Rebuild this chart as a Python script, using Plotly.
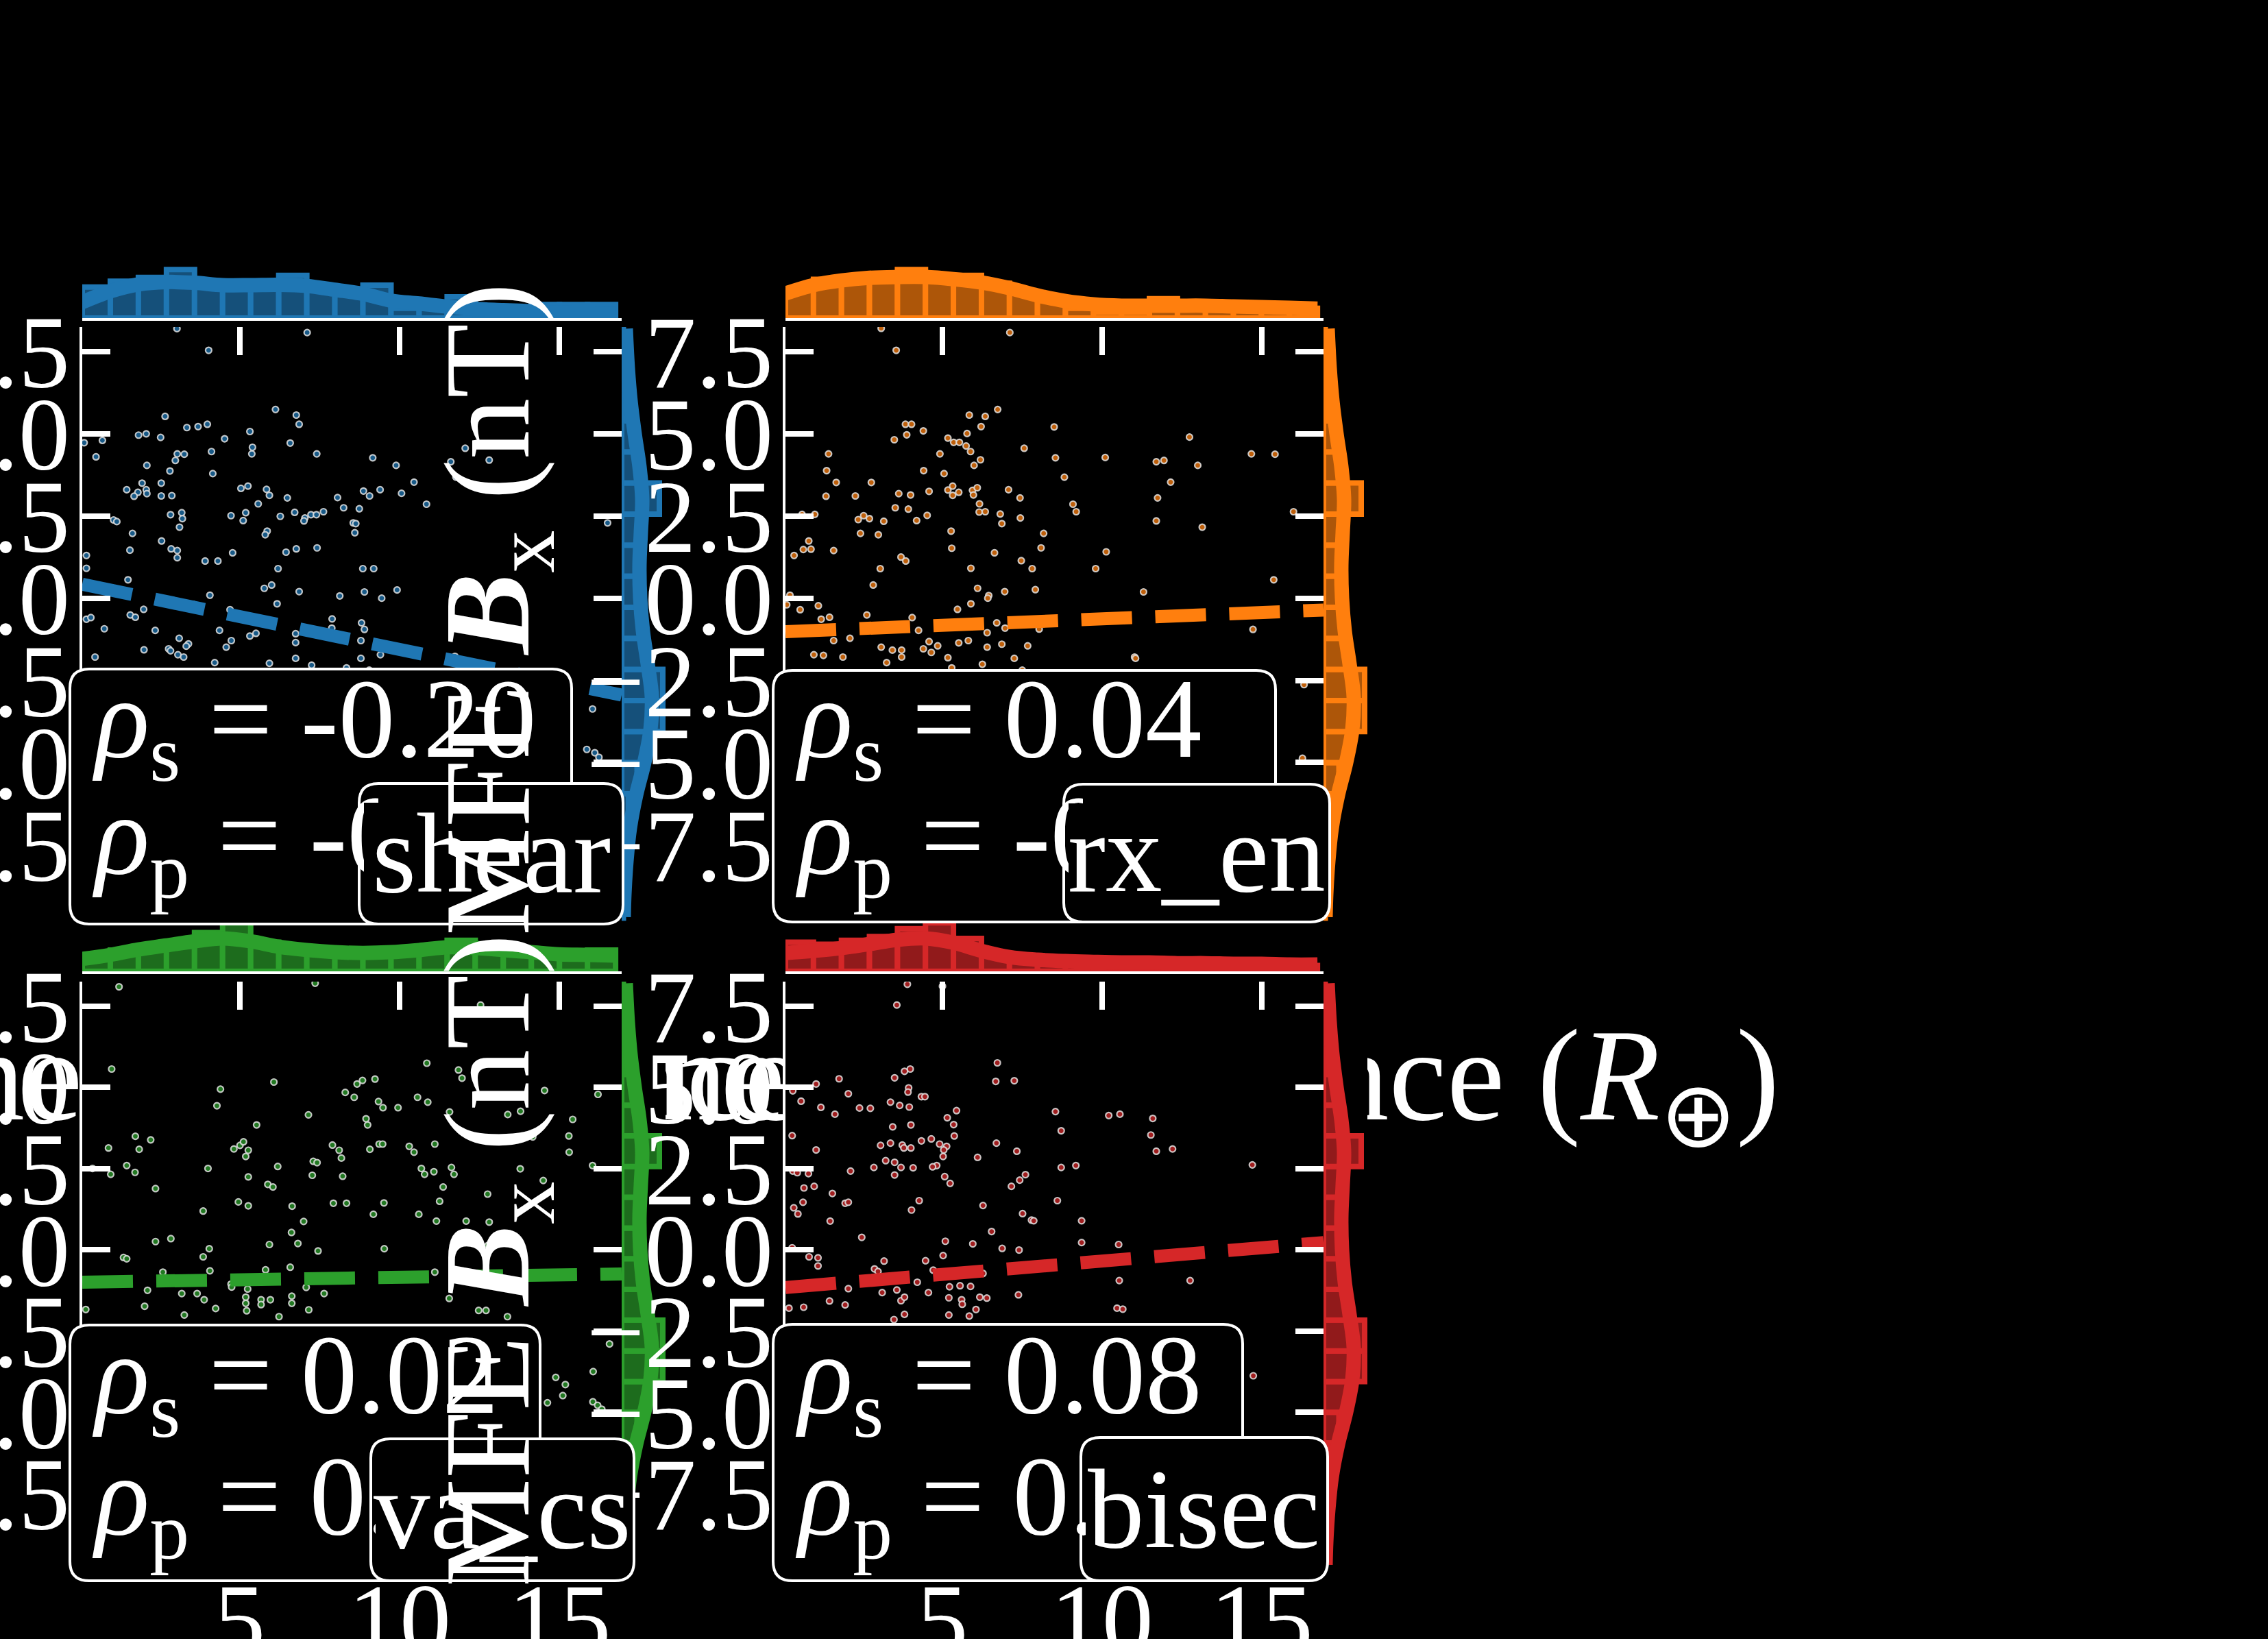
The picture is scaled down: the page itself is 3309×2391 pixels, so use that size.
import plotly.graph_objects as go

FIG_W, FIG_H = 3309, 2391
SERIF = "Liberation Serif"

PANELS = ["shear", "rx_en", "va_cs", "bisec"]
COLORS = ["#1f77b4", "#ff7f0e", "#2ca02c", "#d62728"]

# reconnection distance (R_E) vs MFE B_x (nT), one pair of lists per method
SHEAR_X = [3.04, 7.11, 4.03, 6.12, 6.77, 6.86, 2.67, 3.99, 3.70, 3.35,
           1.84, 2.08, 0.14, 0.71, 2.53, 5.32, 4.53, 6.58, 5.40, 5.38,
           4.12, 3.27, 3.05, 2.99, 7.41, 0.51, 2.10, 2.82, 4.16, 9.16,
           9.89, 12.05, 11.60, 11.76, 12.80, 10.45, 10.84, 10.06, 9.39, 9.06,
           8.87, 8.06, 8.25, 8.74, 1.95, 2.08, 1.82, 1.47, 1.70, 2.10,
           2.55, 2.55, 2.88, 5.04, 5.26, 5.84, 5.93, 6.49, 5.58, 5.19,
           4.73, 5.11, 6.27, 6.72, 7.04, 7.23, 7.62, 7.40, 7.01, 5.86,
           5.80, 8.55, 8.63, 8.60, 16.50, 1.06, 1.16, 2.84, 3.19, 3.21,
           3.12, 1.65, 1.57, 2.56, 2.86, 3.05, 3.05, 3.92, 4.32, 4.78,
           6.45, 6.77, 7.42, 0.21, 0.21, 6.20, 8.85, 9.19, 1.51, 5.77,
           6.00, 6.86, 9.92, 8.90, 9.44, 8.13, 4.07, 6.17, 3.56, 0.21,
           0.35, 1.58, 1.74, 2.00, 4.70, 7.89, 7.88, 8.81, 8.90, 0.77,
           2.36, 4.37, 5.32, 5.51, 3.11, 3.40, 3.33, 2.78, 2.84, 3.07,
           3.25, 2.01, 4.74, 4.58, 0.48, 6.75, 6.75, 8.79, 9.31, 9.40,
           8.79, 6.75, 4.22, 5.93, 7.25, 8.34, 9.05, 11.73, 16.03, 15.85,
           16.10, 16.23]
SHEAR_Y = [8.20, 8.08, 7.54, 5.74, 5.57, 5.29, 5.53, 5.29, 5.22, 5.19,
           4.96, 5.00, 4.73, 4.80, 4.89, 5.07, 4.85, 4.72, 4.59, 4.39,
           4.46, 4.38, 4.39, 4.19, 4.39, 4.30, 4.04, 3.87, 3.79, 4.27,
           4.04, 4.56, 4.15, 3.68, 4.20, 3.53, 2.86, 3.19, 3.30, 3.11,
           3.26, 3.06, 2.75, 2.72, 3.50, 3.30, 3.22, 3.30, 3.10, 3.18,
           3.50, 3.11, 3.12, 3.34, 3.41, 3.31, 3.13, 3.05, 2.87, 2.60,
           2.51, 2.36, 2.49, 2.61, 2.44, 2.54, 2.63, 2.54, 2.35, 2.04,
           1.93, 2.29, 2.27, 1.99, 2.29, 2.38, 2.33, 2.54, 2.60, 2.42,
           2.16, 1.97, 1.46, 1.74, 1.50, 1.45, 1.23, 1.13, 1.13, 1.38,
           1.40, 1.50, 1.53, 1.30, 0.91, 0.90, 0.90, 0.90, 0.56, 0.30,
           0.40, 0.20, 0.25, 0.19, 0.00, 0.07, 0.09, -0.17, -0.19, -0.64,
           -0.59, -0.51, -0.58, -0.34, -0.35, -0.63, -0.91, -0.75, -0.95, -0.93,
           -0.98, -0.98, -1.15, -1.07, -1.22, -1.39, -1.46, -1.54, -1.60, -1.72,
           -1.79, -1.57, -1.29, -1.49, -1.79, -1.08, -1.35, -1.29, -1.41, -1.72,
           -1.83, -1.83, -1.96, -1.98, -2.04, -2.12, -2.19, -1.77, -3.37, -4.60,
           -4.70, -4.84]

RX_EN_X = [3.08, 7.11, 3.55, 6.73, 5.84, 6.34, 3.84, 4.03, 6.21, 8.50,
           4.40, 3.88, 3.49, 5.17, 5.77, 5.35, 5.53, 5.74, 5.88, 7.56,
           12.74, 14.68, 15.42, 1.43, 4.92, 6.19, 5.99, 8.54, 10.10, 11.70,
           11.94, 13.00, 1.37, 4.41, 5.05, 1.67, 2.77, 8.82, 12.15, 1.35,
           2.27, 3.63, 4.00, 4.58, 5.17, 5.32, 5.32, 5.51, 5.94, 6.09,
           5.97, 7.07, 7.43, 6.16, 11.74, 9.09, 9.19, 3.52, 3.93, 6.15,
           6.34, 6.81, 4.52, 4.19, 6.86, 7.44, 11.70, 13.14, 16.00, 0.60,
           1.00, 2.36, 2.53, 2.71, 3.16, 2.43, 2.99, 5.27, 8.17, 0.81,
           0.35, 0.64, 0.88, 1.59, 5.29, 6.63, 8.09, 10.13, 3.70, 3.85,
           5.89, 7.47, 7.81, 9.80, 3.05, 2.83, 6.10, 6.45, 6.42, 6.95,
           7.91, 11.30, 15.38, 0.22, 0.12, 0.54, 1.11, 1.20, 1.46, 2.63,
           4.05, 5.47, 5.89, 6.70, 6.96, 6.40, 8.03, 4.25, 14.73, 1.59,
           2.10, 0.97, 1.27, 1.88, 3.08, 3.43, 3.72, 3.72, 3.25, 4.40,
           4.58, 4.65, 4.85, 5.17, 5.51, 5.81, 6.40, 6.86, 7.25, 7.67,
           6.25, 5.29, 7.50, 11.02, 11.05, 16.33, 16.28]
RX_EN_Y = [8.21, 8.08, 7.54, 5.74, 5.57, 5.53, 5.29, 5.29, 5.22, 5.21,
           5.09, 4.97, 4.82, 4.87, 5.01, 4.74, 4.74, 4.63, 4.46, 4.56,
           4.90, 4.39, 4.38, 4.39, 4.39, 4.21, 4.04, 4.27, 4.28, 4.15,
           4.19, 4.04, 3.88, 3.88, 3.79, 3.52, 3.52, 3.68, 3.53, 3.10,
           3.11, 3.18, 3.14, 3.25, 3.29, 3.41, 3.13, 3.22, 3.28, 3.36,
           3.14, 3.30, 3.05, 2.87, 3.05, 2.86, 2.63, 2.75, 2.71, 2.62,
           2.63, 2.56, 2.52, 2.36, 2.27, 2.44, 2.35, 2.16, 2.63, 2.55,
           2.55, 2.39, 2.51, 2.42, 2.34, 1.97, 1.93, 2.04, 1.97, 1.74,
           1.30, 1.48, 1.49, 1.45, 1.52, 1.38, 1.53, 1.41, 1.25, 1.13,
           0.91, 1.14, 0.90, 0.90, 0.90, 0.40, 0.30, 0.08, 0.00, 0.20,
           0.26, 0.19, 0.56, 0.09, -0.20, -0.35, -0.23, -0.64, -0.58, -0.51,
           -0.59, -0.34, -0.17, -0.75, -0.91, -1.05, -0.94, -0.98, -0.95, -1.29,
           -1.22, -1.72, -1.74, -1.79, -1.49, -1.58, -1.58, -1.79, -1.96, -1.54,
           -1.32, -1.65, -1.45, -1.81, -1.36, -1.29, -1.49, -1.40, -1.83, -1.45,
           -2.01, -2.12, -2.19, -1.79, -1.83, -2.63, -4.87]

VA_CS_X = [1.23, 7.36, 1.00, 6.07, 4.40, 4.29, 5.53, 7.15, 8.30, 8.58,
           8.67, 8.84, 9.23, 9.34, 9.48, 9.95, 8.95, 9.00, 10.56, 10.88,
           10.85, 11.84, 11.95, 12.53, 11.56, 11.93, 13.38, 13.78, 14.53, 16.20,
           15.41, 15.29, 15.30, 14.16, 0.90, 1.74, 1.86, 2.22, 1.47, 1.73,
           0.97, 0.40, 2.37, 4.01, 3.86, 4.82, 5.01, 5.12, 5.27, 5.19,
           5.27, 6.19, 5.88, 6.04, 4.96, 5.27, 6.64, 7.00, 7.30, 7.42,
           7.27, 7.90, 8.11, 8.18, 8.22, 7.93, 8.34, 9.07, 9.36, 9.47,
           10.30, 10.45, 10.68, 10.78, 11.07, 11.10, 11.62, 11.70, 11.36, 11.25,
           11.15, 10.60, 9.18, 9.51, 12.08, 12.75, 12.80, 12.76, 13.77, 14.49,
           16.03, 6.62, 6.82, 7.45, 5.93, 3.86, 4.05, 2.37, 2.85, 1.37,
           1.47, 9.52, 11.10, 11.55, 12.47, 12.70, 13.37, 2.60, 2.12, 2.03,
           3.19, 3.67, 3.89, 4.25, 3.27, 4.07, 4.73, 4.75, 5.25, 5.19,
           5.19, 5.22, 5.67, 5.67, 5.96, 5.81, 6.58, 6.63, 6.63, 7.08,
           7.16, 7.64, 6.23, 0.19, 14.62, 14.88, 15.18, 15.10, 16.05, 16.04,
           16.19, 16.32, 16.56]
VA_CS_Y = [8.09, 8.20, 5.56, 5.16, 4.94, 4.43, 3.84, 4.15, 4.84, 4.69,
           5.10, 5.21, 5.25, 4.56, 4.37, 4.37, 4.03, 3.84, 4.69, 4.54,
           5.74, 5.53, 5.28, 7.53, 4.24, 3.65, 4.16, 4.26, 4.90, 4.78,
           4.01, 3.50, 3.00, 3.47, 3.13, 3.49, 3.09, 3.38, 2.59, 2.38,
           2.32, 2.50, 1.88, 2.50, 1.19, 3.10, 3.21, 3.32, 3.06, 2.87,
           2.24, 2.56, 2.01, 1.93, 1.47, 1.35, 1.34, 0.87, 2.72, 2.68,
           2.29, 3.22, 3.06, 2.82, 2.26, 1.43, 1.43, 3.09, 3.25, 3.25,
           3.18, 3.00, 2.50, 2.32, 2.40, 3.25, 2.53, 2.32, 1.93, 1.49,
           0.88, 1.09, 1.09, 1.44, 0.88, 1.71, 0.85, 0.13, 2.49, 2.13,
           2.59, 0.53, 0.19, -0.04, 0.16, -0.22, 0.03, 0.25, 0.34, -0.24,
           -0.28, 0.03, -0.69, -1.50, -1.87, -1.87, -2.06, -0.69, -1.25, -1.74,
           -1.35, -1.35, -1.54, -1.81, -2.01, -0.65, -1.06, -1.15, -1.21, -1.46,
           -1.65, -1.88, -1.54, -1.69, -1.54, -0.62, -0.54, -1.43, -1.65, -1.16,
           -1.85, -1.35, -2.06, -1.84, -4.71, -3.93, -4.15, -4.49, -3.75, -4.68,
           -4.79, -4.91, -2.90]

BISEC_X = [3.90, 3.57, 5.00, 6.72, 6.67, 7.25, 3.99, 3.81, 3.50, 1.76,
           1.04, 0.31, 2.05, 0.57, 1.19, 1.63, 2.40, 2.74, 3.37, 3.66,
           3.94, 3.92, 4.34, 4.45, 3.96, 4.01, 3.44, 5.15, 5.44, 5.35,
           5.37, 5.13, 5.02, 4.82, 4.69, 4.34, 4.65, 4.91, 5.04, 3.74,
           4.01, 3.06, 3.37, 3.79, 0.29, 1.04, 2.12, 2.85, 3.22, 3.50,
           3.70, 3.50, 4.08, 5.07, 5.24, 6.10, 6.69, 7.33, 7.60, 7.42,
           7.16, 8.54, 8.72, 8.72, 9.18, 8.60, 10.21, 10.56, 11.59, 11.53,
           11.70, 12.21, 14.71, 0.31, 0.45, 0.80, 0.66, 0.98, 1.55, 1.95,
           2.05, 0.34, 0.47, 0.63, 1.48, 4.27, 4.03, 6.27, 7.51, 7.79,
           7.86, 6.54, 9.36, 2.47, 5.09, 5.95, 6.87, 7.40, 9.36, 10.52,
           0.29, 0.82, 1.10, 1.10, 3.17, 2.87, 2.98, 4.47, 5.02, 4.71,
           6.27, 5.73, 10.54, 12.76, 2.05, 3.11, 3.57, 4.21, 4.56, 5.22,
           5.55, 5.88, 6.17, 6.39, 7.38, 1.46, 1.95, 0.19, 0.65, 3.70,
           3.81, 5.20, 5.60, 5.62, 6.05, 5.84, 3.81, 5.20, 3.48, 10.47,
           10.65, 14.74]
BISEC_Y = [8.17, 7.53, 8.11, 5.75, 5.18, 5.20, 5.56, 5.49, 5.29, 5.26,
           5.10, 4.89, 4.80, 4.57, 4.38, 4.17, 4.36, 4.35, 4.54, 4.44,
           4.98, 4.85, 4.71, 4.71, 4.39, 3.84, 3.78, 4.06, 4.28, 3.85,
           3.50, 3.18, 2.87, 2.59, 2.55, 3.35, 3.41, 3.25, 3.07, 3.22,
           3.13, 3.21, 3.28, 3.13, 3.51, 3.07, 2.42, 2.53, 2.74, 2.69,
           2.53, 2.30, 2.52, 2.25, 2.04, 2.84, 3.28, 3.03, 2.31, 2.14,
           1.95, 4.25, 3.66, 2.53, 2.59, 1.51, 4.13, 4.17, 4.04, 3.53,
           3.03, 3.10, 2.61, 2.42, 2.37, 2.34, 1.90, 1.95, 1.73, 1.43,
           1.46, 1.29, 1.10, 1.46, 0.88, 1.51, 1.22, 1.36, 1.11, 0.91,
           0.89, 0.56, 0.89, 0.38, 0.26, 0.18, 0.04, -0.01, 0.22, 0.16,
           0.06, -0.22, -0.25, -0.50, -0.35, -0.59, -0.67, -0.34, -0.18, -0.63,
           -0.73, -0.70, -0.95, -0.95, -1.20, -1.32, -1.24, -1.00, -1.32, -1.14,
           -1.11, -1.13, -1.46, -1.49, -1.39, -1.58, -1.70, -1.80, -1.77, -1.57,
           -1.46, -1.48, -1.54, -1.68, -1.84, -2.04, -1.99, -2.01, -2.15, -1.80,
           -1.83, -3.88]

# correlation coefficients and linear fit (intercept, slope) per method
RHO_S = [-0.20, 0.04, 0.02, 0.08]
RHO_P = [-0.19, -0.03, 0.03, 0.09]
FIT_INTERCEPT = [0.44, -1.02, -1.00, -1.17]
FIT_SLOPE = [-0.200, 0.039, 0.015, 0.082]

# top marginals: 19-bin histograms of distance + kde read at the bin edges
X_BIN_LO, X_BIN_HI, N_BINS = 0.08, 16.75, 19
SHEAR_TOP_HIST = [16, 19, 21, 25, 17, 17, 17, 22, 15, 13, 17, 5, 5, 11, 4, 4, 7, 7, 7]
RX_EN_TOP_HIST = [15, 20, 21, 21, 25, 22, 22, 18, 13, 9, 5, 3, 3, 10, 5, 5, 5, 5, 5]
VA_CS_TOP_HIST = [7, 11, 13, 15, 20, 25, 15, 11, 10, 9, 9, 10, 11, 16, 12, 11, 8, 8, 11]
BISEC_TOP_HIST = [15, 14, 16, 18, 22, 25, 17, 9, 6, 5, 4, 4, 4, 4, 3, 3, 3, 3, 3]
SHEAR_TOP_KDE = [8.2, 13.8, 17.4, 18.6, 18.2, 17.0, 17.0, 17.2, 16.6, 14.6,
                 12.5, 9.0, 7.5, 5.9, 4.7, 4.1, 3.5, 2.8, 2.4, 2.2]
RX_EN_TOP_KDE = [12.7, 17.0, 19.4, 20.8, 21.2, 21.2, 20.1, 18.4, 15.5, 11.7,
                 8.8, 7.1, 6.4, 6.4, 6.4, 6.4, 6.0, 5.7, 5.3, 4.9]
VA_CS_TOP_KDE = [6.4, 8.5, 11.3, 13.4, 15.5, 17.0, 15.5, 12.7, 11.0, 9.9,
                 9.5, 9.9, 11.0, 12.4, 12.0, 11.0, 9.9, 8.8, 8.5, 8.1]
BISEC_TOP_KDE = [9.5, 10.6, 12.0, 14.1, 16.3, 17.0, 14.8, 10.6, 7.4, 6.0,
                 5.3, 4.9, 4.6, 4.6, 4.2, 4.2, 3.9, 3.9, 3.5, 3.5]

# right marginal (same MFE B_x in every panel), bins bottom -> top
Y_BIN_LO, Y_BIN_HI = -9.73, 8.23
MFE_HIST = [1, 2, 2, 4, 9, 15, 24, 24, 15, 11, 9, 9, 10, 22, 11, 8, 3, 2, 1]
MFE_KDE_Y = [-9.7, -9.0, -8.0, -7.0, -6.0, -5.0, -4.0, -3.0, -2.0, -1.0,
             0.0, 1.0, 2.0, 3.0, 4.0, 5.0, 6.0, 7.0, 8.2]
MFE_KDE = [1.2, 1.6, 2.8, 4.8, 8.4, 13.2, 16.8, 17.6, 15.2, 12.4,
           10.8, 10.4, 11.2, 12.0, 10.4, 7.6, 5.2, 3.6, 2.4]

X_RANGE = [0.08, 16.94]
Y_RANGE = [-9.85, 8.25]
X_TICKS = [5, 10, 15]
Y_TICKS = [-7.5, -5.0, -2.5, 0.0, 2.5, 5.0, 7.5]

XLABEL = "Reconnection distance (<i>R</i><sub>⊕</sub>)"
YLABEL = "MFE <b><i>B</i></b><sub>x</sub> (nT)"

PANEL_X = [SHEAR_X, RX_EN_X, VA_CS_X, BISEC_X]
PANEL_Y = [SHEAR_Y, RX_EN_Y, VA_CS_Y, BISEC_Y]
TOP_HIST = [SHEAR_TOP_HIST, RX_EN_TOP_HIST, VA_CS_TOP_HIST, BISEC_TOP_HIST]
TOP_KDE = [SHEAR_TOP_KDE, RX_EN_TOP_KDE, VA_CS_TOP_KDE, BISEC_TOP_KDE]

# geometry in pixels (left/right per column, top/bottom per row)
COL_LEFT = [120, 1146]
COL_RIGHT = [907, 1931]
ROW_TOP = [477, 1432]
ROW_BOTTOM = [1345, 2290]
MARG_BASE = [464, 1417]
MARG_H = 76
MARG_W = 64
TOP_MAX = 26.9
RIGHT_MAX = 25.6
XLABEL_Y = 1585
YLABEL_X = 723
# stat boxes: (left, top, right, bottom)
BOX_STATS = [(102, 976, 834, 1348), (1128, 978, 1861, 1345),
             (102, 1933, 788, 2306), (1128, 1932, 1813, 2306)]
BOX_NAME = [(524, 1143, 909, 1348), (1552, 1144, 1940, 1345),
            (541, 2099, 925, 2306), (1577, 2097, 1937, 2306)]
STAT_LINES = [(1061, 1230), (2017, 2194)]
BOX_RADIUS = 28

TICK_FONT = dict(family=SERIF, size=150, color="white")
BOX_FONT = dict(family=SERIF, size=165, color="white")


def fx(px):
    return px / FIG_W


def fy(py):
    return 1 - py / FIG_H


def shade(hex_color, f):
    r, g, b = (int(hex_color[i:i + 2], 16) for i in (1, 3, 5))
    return f"rgb({int(r * f)},{int(g * f)},{int(b * f)})"


def bin_edges(lo, hi, n):
    return [lo + (hi - lo) * i / n for i in range(n + 1)]


def rounded_box(left, top, right, bottom, rad=BOX_RADIUS):
    x0, x1, y0, y1 = fx(left), fx(right), fy(top), fy(bottom)
    rx, ry = rad / FIG_W, rad / FIG_H
    path = (f"M {x0 + rx},{y0} L {x1 - rx},{y0} Q {x1},{y0} {x1},{y0 - ry} "
            f"L {x1},{y1 + ry} Q {x1},{y1} {x1 - rx},{y1} "
            f"L {x0 + rx},{y1} Q {x0},{y1} {x0},{y1 + ry} "
            f"L {x0},{y0 - ry} Q {x0},{y0} {x0 + rx},{y0} Z")
    return dict(type="path", path=path, xref="paper", yref="paper", layer="above",
                fillcolor="black", line=dict(color="white", width=4))


def cover_patches(left, top, right, bottom, rad=BOX_RADIUS, inset=7):
    # two black bands forming a cross: they fill the box but keep its round corners
    cx, cy = (left + right) / 2, (top + bottom) / 2
    sizes = [(right - left - 2 * inset, bottom - top - 2 * rad),
             (right - left - 2 * rad, bottom - top - 2 * inset)]
    return [dict(x=fx(cx), y=fy(cy), xanchor="center", yanchor="middle", text=" ",
                 width=w, height=h, bgcolor="black", borderwidth=0, borderpad=0,
                 font=BOX_FONT) for w, h in sizes]


fig = go.Figure()
layout = {}

# axis-label layer: sits under every panel, so the panels hide most of it
fig.add_trace(go.Scatter(
    x=[fx((COL_LEFT[c] + COL_RIGHT[c]) / 2) for c in range(2)],
    y=[fy(XLABEL_Y)] * 2,
    mode="text", text=[XLABEL] * 2,
    textfont=dict(family=SERIF, size=190, color="white"),
    xaxis="x", yaxis="y", hoverinfo="skip",
))
layout["xaxis"] = dict(domain=[0, 1], range=[0, 1], visible=False, automargin=False)
layout["yaxis"] = dict(domain=[0, 1], range=[0, 1], visible=False, automargin=False)

x_edges = bin_edges(X_BIN_LO, X_BIN_HI, N_BINS)
x_mid = [(a + b) / 2 for a, b in zip(x_edges[:-1], x_edges[1:])]
y_edges = bin_edges(Y_BIN_LO, Y_BIN_HI, N_BINS)
y_mid = [(a + b) / 2 for a, b in zip(y_edges[:-1], y_edges[1:])]

annotations = []
shapes = []

for k, name in enumerate(PANELS):
    c, r = k % 2, k // 2
    m, t, rt = 3 * k + 2, 3 * k + 3, 3 * k + 4
    color = COLORS[k]
    dark = shade(color, 0.68)

    fig.add_trace(go.Scatter(
        x=PANEL_X[k], y=PANEL_Y[k], mode="markers",
        marker=dict(size=9, color=shade(color, 0.75),
                    line=dict(color="rgba(225,225,225,0.85)", width=2.2)),
        xaxis=f"x{m}", yaxis=f"y{m}", hoverinfo="skip",
    ))
    fig.add_trace(go.Scatter(
        x=X_RANGE, y=[FIT_INTERCEPT[k] + FIT_SLOPE[k] * v for v in X_RANGE],
        mode="lines", line=dict(color=color, width=19, dash="74px,34px"),
        xaxis=f"x{m}", yaxis=f"y{m}", hoverinfo="skip",
    ))

    fig.add_trace(go.Bar(
        x=x_mid, y=TOP_HIST[k], width=x_edges[1] - x_edges[0],
        marker=dict(color=dark, line=dict(color=color, width=8)),
        xaxis=f"x{t}", yaxis=f"y{t}", hoverinfo="skip",
    ))
    fig.add_trace(go.Scatter(
        x=x_edges, y=TOP_KDE[k], mode="lines",
        line=dict(color=color, width=21, shape="spline"),
        xaxis=f"x{t}", yaxis=f"y{t}", hoverinfo="skip",
    ))

    fig.add_trace(go.Bar(
        y=y_mid, x=MFE_HIST, orientation="h", width=y_edges[1] - y_edges[0],
        marker=dict(color=dark, line=dict(color=color, width=8)),
        xaxis=f"x{rt}", yaxis=f"y{rt}", hoverinfo="skip",
    ))
    fig.add_trace(go.Scatter(
        x=MFE_KDE, y=MFE_KDE_Y, mode="lines",
        line=dict(color=color, width=21, shape="spline"),
        xaxis=f"x{rt}", yaxis=f"y{rt}", hoverinfo="skip",
    ))

    x_dom = [fx(COL_LEFT[c]), fx(COL_RIGHT[c])]
    y_dom = [fy(ROW_BOTTOM[r]), fy(ROW_TOP[r])]
    tick_style = dict(ticks="inside", ticklen=41, tickwidth=8, tickcolor="white",
                      showgrid=False, zeroline=False, tickfont=TICK_FONT,
                      automargin=False)
    layout[f"xaxis{m}"] = dict(domain=x_dom, anchor=f"y{m}", range=X_RANGE,
                               tickvals=X_TICKS, tickformat="d", showline=False,
                               mirror="ticks", showticklabels=(r == 1),
                               ticklabelstandoff=-26, **tick_style)
    layout[f"yaxis{m}"] = dict(domain=y_dom, anchor=f"x{m}", range=Y_RANGE,
                               tickvals=Y_TICKS, tickformat=".1f", showline=True,
                               linecolor="white", linewidth=4, mirror="ticks",
                               ticklabelstandoff=-16, **tick_style)
    layout[f"xaxis{t}"] = dict(domain=x_dom, anchor=f"y{t}", range=X_RANGE,
                               showline=True, linecolor="white", linewidth=4,
                               ticks="", showticklabels=False, automargin=False,
                               showgrid=False, zeroline=False)
    layout[f"yaxis{t}"] = dict(domain=[fy(MARG_BASE[r]), fy(MARG_BASE[r] - MARG_H)],
                               anchor=f"x{t}", range=[0, TOP_MAX], visible=False,
                               automargin=False)
    layout[f"xaxis{rt}"] = dict(domain=[fx(COL_RIGHT[c]), fx(COL_RIGHT[c] + MARG_W)],
                                anchor=f"y{rt}", range=[0, RIGHT_MAX], visible=False,
                                automargin=False)
    layout[f"yaxis{rt}"] = dict(domain=y_dom, anchor=f"x{rt}", range=Y_RANGE,
                                visible=False, automargin=False)

    # rounded boxes: correlation box, then the method box over its corner
    shapes.append(rounded_box(*BOX_STATS[k]))
    shapes.append(rounded_box(*BOX_NAME[k]))

    left = BOX_STATS[k][0]
    for sym, val, line_y in zip("sp", (RHO_S[k], RHO_P[k]), STAT_LINES[r]):
        annotations.append(dict(
            x=fx(left + 30), y=fy(line_y), xanchor="left", yanchor="middle",
            text=f"<i>ρ</i><sub>{sym}</sub> = {val:.2f}", font=BOX_FONT,
        ))
    # the method box hides the rest of the rho_p line
    left, top, right, bottom = BOX_NAME[k]
    annotations.extend(cover_patches(left, top, right, bottom))
    annotations.append(dict(
        x=fx((left + right) / 2), y=fy((top + bottom) / 2),
        xanchor="center", yanchor="middle", text=name, font=BOX_FONT,
    ))

# y labels of the right-hand column land over the left-hand panels
for r in range(2):
    annotations.append(dict(
        x=fx(YLABEL_X), y=fy((ROW_TOP[r] + ROW_BOTTOM[r]) / 2 - 22),
        xanchor="center", yanchor="middle", textangle=-90, text=YLABEL,
        font=dict(family=SERIF, size=178, color="white"),
    ))

for a in annotations:
    a.update(xref="paper", yref="paper", showarrow=False)

fig.update_layout(
    template="none",
    width=FIG_W, height=FIG_H,
    margin=dict(l=0, r=0, t=0, b=0, pad=0),
    paper_bgcolor="black", plot_bgcolor="black",
    showlegend=False, hovermode=False, barmode="overlay",
    annotations=annotations, shapes=shapes,
    **layout,
)

fig.write_html(
    "out.html",
    config={"displayModeBar": False},
    post_script="document.body.style.margin='0';document.body.style.background='black';",
)
